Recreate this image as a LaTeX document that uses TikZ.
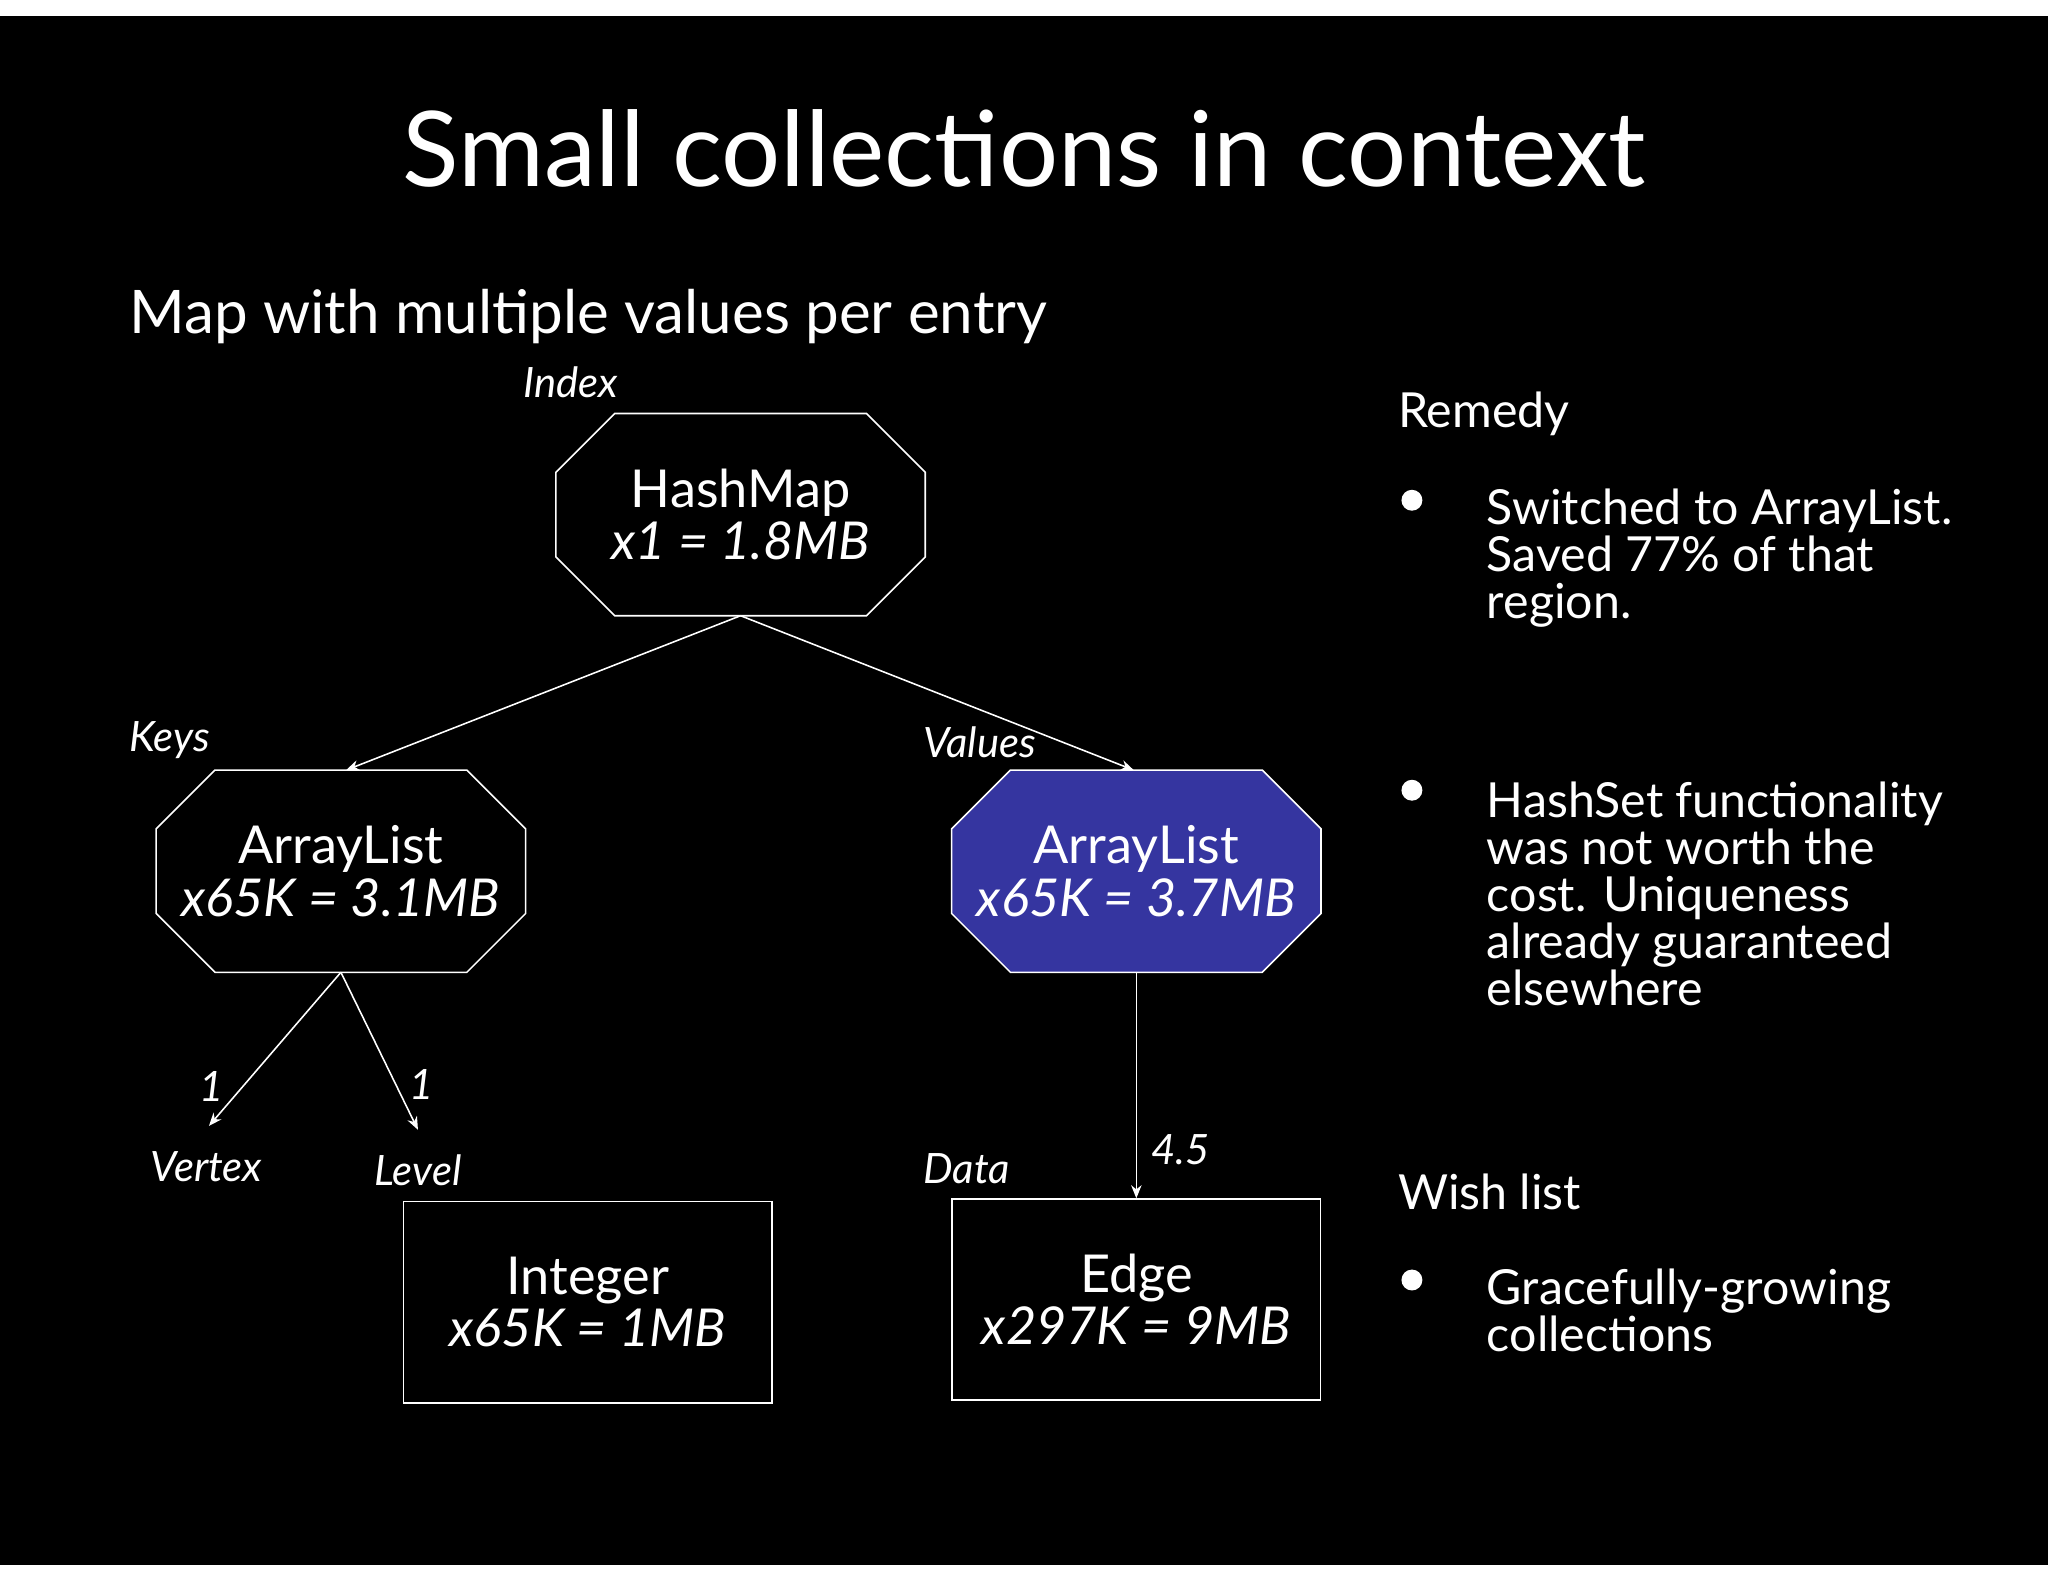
\documentclass[tikz,border=0pt]{standalone}
\usepackage{fontspec}
\setmainfont{Lato}
\usetikzlibrary{arrows.meta}
\definecolor{nodeblue}{HTML}{3535A0}
\newcommand\octpath[2]{\draw[#2] ([xshift=22.5pt]#1.north west) -- ([xshift=-22.5pt]#1.north east) -- ([yshift=-22.5pt]#1.north east) -- ([yshift=22.5pt]#1.south east) -- ([xshift=-22.5pt]#1.south east) -- ([xshift=22.5pt]#1.south west) -- ([yshift=22.5pt]#1.south west) -- ([yshift=-22.5pt]#1.north west) -- cycle;}
\tikzset{
  box/.style={minimum width=141pt,minimum height=77pt,inner sep=0pt,align=center,text=white,font=\fontsize{20}{22}\selectfont},
  lab/.style={text=white,font=\fontsize{16}{18}\itshape\selectfont,inner sep=0pt},
  body/.style={text=white,font=\fontsize{18.5}{19}\selectfont,inner sep=0pt,anchor=north west,align=left},
  arr/.style={white,line width=0.6pt,-{Stealth[length=5pt,width=4pt]}},
  bul/.style={fill=white,circle,inner sep=0pt,minimum size=8pt}
}
\begin{document}
\begin{tikzpicture}[x=0.5pt,y=-0.5pt]
\useasboundingbox[fill=white] (0,0) rectangle (1568,1211);
\fill[black] (0,12) rectangle (1568,1198);
\node[text=white,font=\fontsize{40}{44}\selectfont] (title) at (784,114) {Small collections in context};
\node[text=white,font=\fontsize{23}{26}\selectfont,anchor=west] (sub) at (92,242) {Map with multiple values per entry};
% nodes
\node[box] (hm) at (567,394) {HashMap\\[-2pt]\textit{x1 = 1.8MB}};
\octpath{hm}{white,line width=0.6pt}
\node[box] (ka) at (261,667) {};
\octpath{ka}{white,line width=0.6pt}
\node[box] at (ka) {ArrayList\\[-2pt]\textit{x65K = 3.1MB}};
\node[box] (va) at (870,667) {};
\octpath{va}{white,line width=0.6pt,fill=nodeblue}
\node[box] at (va) {ArrayList\\[-2pt]\textit{x65K = 3.7MB}};
\node[box,draw=white,line width=0.6pt] (int) at (450,997) {Integer\\[-2pt]\textit{x65K = 1MB}};
\node[box,draw=white,line width=0.6pt] (edge) at (870,995) {Edge\\[-2pt]\textit{x297K = 9MB}};
% labels
\node[lab] (lidx) at (437,293) {Index};
\node[lab] (lkeys) at (130,567) {Keys};
\node[lab] (lval) at (750,568) {Values};
\node[lab] (lvx) at (158,893) {Vertex};
\node[lab] (llv) at (320,896) {Level};
\node[lab] (ldata) at (740,895) {Data};
\node[lab] (l1a) at (162,832) {1};
\node[lab] (l1b) at (323,830) {1};
\node[lab] (l45) at (904,880) {4.5};
\coordinate (vx) at (160,862);
\coordinate (lv) at (320,865);
% arrows
\draw[arr] (hm.south) -- ([xshift=2pt]ka.north);
\draw[arr] (hm.south) -- ([xshift=-1pt]va.north);
\draw[arr] (ka.south) -- (vx);
\draw[arr] (ka.south) -- (lv);
\draw[arr] (va.south) -- (edge.north);
% right text
\node[body] (rem) at (1070,300) {Remedy};
\node[bul] (b1) at (1081,383) {};
\node[body] (t1) at (1138,374) {Switched to ArrayList.\\[-1pt]Saved 77\% of that\\[-1pt]region.};
\node[bul] (b2) at (1081,605) {};
\node[body] (t2) at (1138,598) {HashSet functionality\\[-1pt]was not worth the\\[-1pt]cost. Uniqueness\\[-1pt]already guaranteed\\[-1pt]elsewhere};
\node[body] (wl) at (1070,898) {Wish list};
\node[bul] (b3) at (1081,980) {};
\node[body] (t3) at (1138,971) {Gracefully-growing\\[-1pt]collections};
\end{tikzpicture}
\end{document}
